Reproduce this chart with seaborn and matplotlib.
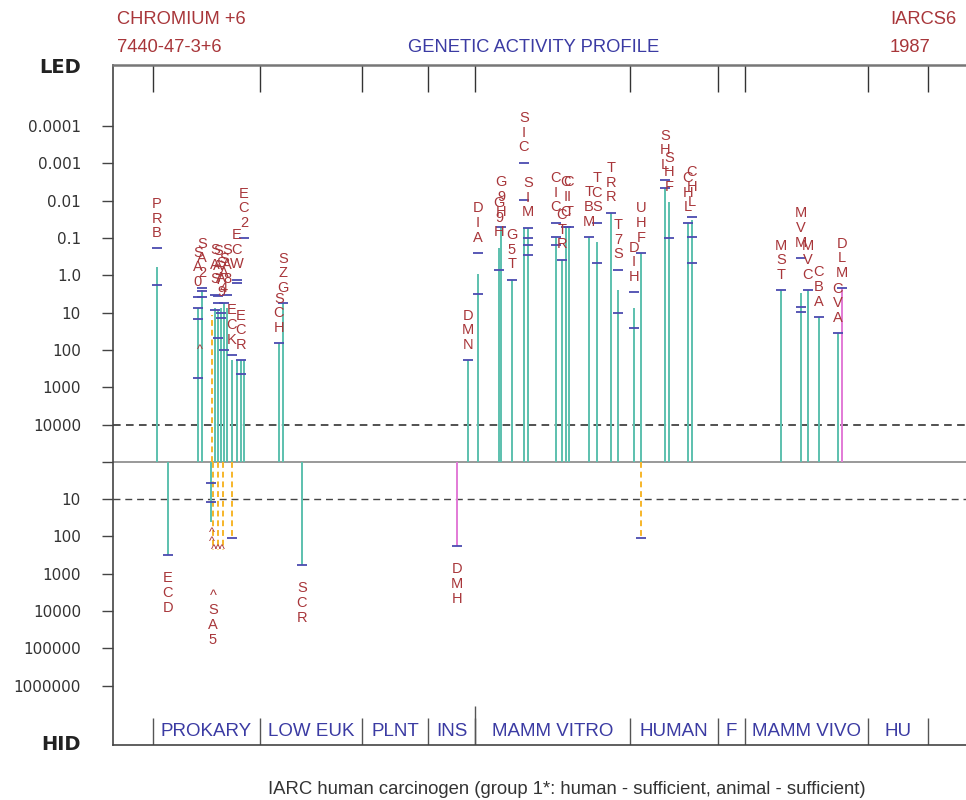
import numpy as np
import pandas as pd
import matplotlib
matplotlib.use("Agg")
import matplotlib.pyplot as plt
import seaborn as sns

# header / footer text
chem_name = "CHROMIUM +6"
cas_no = "7440-47-3+6"
title = "GENETIC ACTIVITY PROFILE"
ref_code = "IARCS6"
ref_year = "1987"
footer = "IARC human carcinogen (group 1*: human - sufficient, animal - sufficient)"

# test groups (column position of the group borders)
groups = ["PROKARY", "LOW EUK", "PLNT", "INS", "MAMM VITRO", "HUMAN", "F", "MAMM VIVO", "HU"]
group_edges = [153, 260, 362, 428, 475, 630, 718, 745, 868, 928]

# upper half: lowest effective dose (LED)
up_codes = ["PRB", "SA0", "SA2", "", "SAS", "SA7", "SA9", "SA4", "SA8", "ECK", "ECW", "ECR", "EC2",
            "SCH", "SZG",
            "DMN", "DIA", "G9H", "G9H", "G5T", "SIC", "SIM", "CIC", "CTR", "CIC", "CIT", "TBM", "TCS",
            "TRR", "T7S", "DIH",
            "UHF", "SHL", "SHF", "CHL", "CHL",
            "MST", "MVM", "MVC", "CBA", "CVA", "DLM"]
up_col = [157, 198, 202, 212, 215, 218, 221, 224, 227, 232, 237, 241, 244,
          279, 283,
          468, 478, 499, 501, 512, 524, 528, 556, 562, 566, 569, 589, 597,
          611, 618, 634,
          641, 665, 669, 688, 692,
          781, 801, 808, 819, 838, 842]
up_led = [0.59, 7.4, 2.5, 11.5, 7.4, 8.5, 7.4, 5.5, 7.4, 190, 190, 190, 190,
          65, 5.5,
          185, 0.91, 0.18, 0.05, 1.3, 0.053, 0.053, 0.093, 0.38, 0.05, 0.05, 0.093, 0.126,
          0.021, 2.5, 7.4,
          0.25, 0.0045, 0.011, 0.039, 0.032,
          2.5, 2.9, 2.5, 13, 35, 2.2]
up_kind = ["pos"] * 3 + ["inc"] + ["pos"] * 37 + ["neg"]
up_marks = [[0.19, 1.8], [3.8, 7.4, 15, 560], [2.2, 2.6, 3.8], [], [3.3, 8.5], [3.5, 5.5, 48],
            [10, 14], [5.5, 100], [3.3], [135], [1.3, 1.6], [190, 440], [0.1],
            [65], [5.5],
            [185], [0.25, 3.1], [0.71], [0.05], [1.3], [0.00096, 0.0095], [0.053, 0.1, 0.15, 0.28],
            [0.039, 0.093, 0.15], [0.38], [0.05], [0.05], [0.093], [0.039, 0.46],
            [0.021], [0.71, 10], [2.8, 26],
            [0.25], [0.0028, 0.0045], [0.1], [0.039], [0.027, 0.093, 0.46],
            [2.5], [0.34, 7, 9.5], [2.5], [13], [35], [2.2]]

# lower half: highest ineffective dose (HID)
low_codes = ["ECD", "", "^SA5", "", "", "", "SCR", "DMH", ""]
low_col = [168, 211, 213, 218, 223, 232, 302, 457, 641]
low_hid = [310, 41, 230, 230, 230, 110, 575, 178, 110]
low_kind = ["pos", "pos", "inc", "inc", "inc", "inc", "pos", "neg", "inc"]
low_marks = [[310], [3.7, 12], [], [], [], [110], [575], [178], [110]]

# "^" signs
caret_col = [200, 212, 212, 214, 218, 222]
caret_dose = [100, 80, 140, 230, 230, 230]
caret_side = ["up", "down", "down", "down", "down", "down"]

# axis ticks
up_ticks = [0.0001, 0.001, 0.01, 0.1, 1.0, 10, 100, 1000, 10000]
up_tick_lab = ["0.0001", "0.001", "0.01", "0.1", "1.0", "10", "100", "1000", "10000"]
low_ticks = [10, 100, 1000, 10000, 100000, 1000000]
low_tick_lab = ["10", "100", "1000", "10000", "100000", "1000000"]

TEAL = "#5cc0ae"
MAG = "#e27ad6"
ORANGE = "#f6b52a"
BLUE = "#4b4bb0"
RED = "#a8363a"
DBLUE = "#3b3ba3"
colors = {"pos": TEAL, "neg": MAG, "inc": ORANGE}


def u_up(d):
    return 5 - np.log10(d)


def u_low(d):
    return -np.log10(d)


sns.set_style("white")
plt.rcParams["font.family"] = ["Liberation Sans", "DejaVu Sans"]

fig = plt.figure(figsize=(9.66, 8), dpi=100)
ax = fig.add_axes([113 / 966, 55 / 800, 1 - 113 / 966, 680 / 800])
ax.set_xlim(113, 966)
ax.set_ylim(-7.59, 10.64)

# reference lines
ax.axhline(0, color="#888888", lw=1.2, zorder=1)
ax.axhline(u_up(10000), color="#222222", lw=1.1, ls=(0, (5, 3.5)), zorder=1)
ax.axhline(u_low(10), color="#444444", lw=1.0, ls=(0, (5, 3.5)), zorder=1)

# bars
up = pd.DataFrame({"code": up_codes, "col": up_col, "u": u_up(np.array(up_led)), "kind": up_kind})
low = pd.DataFrame({"code": low_codes, "col": low_col, "u": u_low(np.array(low_hid)), "kind": low_kind})
for df in (up, low):
    for _, r in df.iterrows():
        ls = (0, (3, 2)) if r["kind"] == "inc" else "-"
        ax.vlines(r["col"], 0, r["u"], color=colors[r["kind"]], lw=1.4, ls=ls, zorder=2)

# dose marks
rows = []
for c, m in zip(up_col, up_marks):
    for d in m:
        rows.append((c, u_up(d)))
for c, m in zip(low_col, low_marks):
    for d in m:
        rows.append((c, u_low(d)))
marks = pd.DataFrame(rows, columns=["col", "u"])
sns.scatterplot(data=marks, x="col", y="u", marker="_", s=60, color=BLUE, linewidth=1.3, ax=ax, zorder=3)

# carets
for c, d, s in zip(caret_col, caret_dose, caret_side):
    uu = u_up(d) if s == "up" else u_low(d)
    ax.text(c, uu, "^", color=RED, fontsize=9, ha="center", va="center", zorder=4)

# vertical code labels
lab_kw = dict(textcoords="offset points", ha="center", fontsize=10.5, linespacing=1.05,
              color=RED, zorder=4)
for i, code in enumerate(up_codes):
    if not code:
        continue
    top = max([up.loc[i, "u"]] + [u_up(d) for d in up_marks[i]])
    ax.annotate("\n".join(code), (up_col[i], top), xytext=(0, 6), va="bottom", **lab_kw)
for i, code in enumerate(low_codes):
    if not code:
        continue
    bot = min([low.loc[i, "u"]] + [u_low(d) for d in low_marks[i]])
    # a leading "^" label sits further below the open-ended lines
    pad = -28 if code.startswith("^") else -12
    ax.annotate("\n".join(code), (low_col[i], bot), xytext=(0, pad), va="top", **lab_kw)

# group separators and names
xt = ax.get_xaxis_transform()
ax.vlines(group_edges, 0.96, 1.0, transform=xt, color="#333333", lw=1.0)
ax.vlines(group_edges, 0.0, 0.04, transform=xt, color="#555555", lw=1.0)
ax.vlines(group_edges[4], 0.0, 0.058, transform=xt, color="#555555", lw=1.0)
for g, a, b in zip(groups, group_edges[:-1], group_edges[1:]):
    ax.text((a + b) / 2, 0.02, g, transform=xt, ha="center", va="center",
            fontsize=13.5, color=DBLUE)

# y axis
yt = [u_up(t) for t in up_ticks] + [0] + [u_low(t) for t in low_ticks]
ax.set_yticks(yt)
ax.set_yticklabels(up_tick_lab + [""] + low_tick_lab, family="DejaVu Sans", fontsize=11, color="#333333")
ax.tick_params(axis="y", direction="out", length=8, width=1, color="#444444", pad=15, left=True)
ax.set_xticks([])
ax.set_xlabel("")
ax.set_ylabel("")
for t, uu in (("LED", 10.56), ("HID", -7.59)):
    ax.annotate(t, (0, uu), xycoords=("axes fraction", "data"), xytext=(-23, 0),
                textcoords="offset points", ha="right", va="center", fontsize=14,
                fontweight="bold", family="DejaVu Sans", color="#222222")

for side in ["left", "bottom"]:
    ax.spines[side].set_color("#444444")
    ax.spines[side].set_linewidth(1.2)
ax.spines["top"].set_color("#777777")
ax.spines["top"].set_linewidth(1.8)
ax.spines["right"].set_visible(False)

# header
hdr = dict(fontsize=13.2, va="center")
fig.text(117 / 966, 1 - 19 / 800, chem_name, color=RED, **hdr)
fig.text(117 / 966, 1 - 47 / 800, cas_no, color=RED, **hdr)
fig.text(534 / 966, 1 - 47 / 800, title, color=DBLUE, ha="center", **hdr)
fig.text(890 / 966, 1 - 19 / 800, ref_code, color=RED, **hdr)
fig.text(890 / 966, 1 - 47 / 800, ref_year, color=RED, **hdr)
fig.text(567 / 966, 1 - 790 / 800, footer, color="#333333", fontsize=13.3, ha="center", va="center")

fig.savefig("out.png", dpi=100)
